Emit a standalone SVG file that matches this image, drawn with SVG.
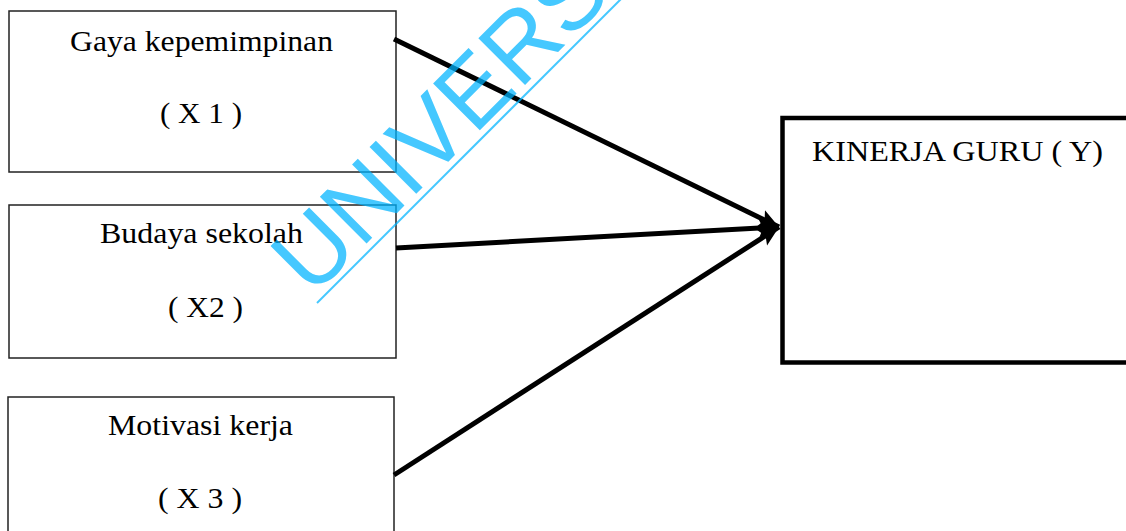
<svg xmlns="http://www.w3.org/2000/svg" width="1126" height="531" viewBox="0 0 1126 531">
<style>
.box{fill:#fff;stroke:#222;stroke-width:1.5}
.big{fill:#fff;stroke:#000;stroke-width:4.5}
.t{font-family:"Liberation Serif","Times New Roman",serif;font-size:29px;fill:#000}
.c{fill:none;stroke:#000;stroke-width:5}
.wm{font-family:"Liberation Sans",Arial,sans-serif;font-size:96px;fill:#00B4FF;fill-opacity:0.73}
</style>
<defs>
<marker id="ah" markerUnits="userSpaceOnUse" markerWidth="22" markerHeight="20" refX="20" refY="10" orient="auto">
<path d="M0,1 L20,10 L0,19 L4,10 Z" fill="#000"/>
</marker>
</defs>
<g id="node-x1">
<rect class="box" x="9" y="11" width="387" height="161"/>
<text class="t" x="201.5" y="51" text-anchor="middle" textLength="263" lengthAdjust="spacingAndGlyphs">Gaya kepemimpinan</text>
<text class="t" x="201" y="123" text-anchor="middle" textLength="82" lengthAdjust="spacingAndGlyphs">( X 1 )</text>
</g>
<g id="node-x2">
<rect class="box" x="9" y="205" width="387" height="153"/>
<text class="t" x="201.5" y="243" text-anchor="middle" textLength="203" lengthAdjust="spacingAndGlyphs">Budaya sekolah</text>
<text class="t" x="205.5" y="317" text-anchor="middle" textLength="75" lengthAdjust="spacingAndGlyphs">( X2 )</text>
</g>
<g id="node-x3">
<rect class="box" x="8" y="397" width="386" height="150"/>
<text class="t" x="200.5" y="435" text-anchor="middle" textLength="185" lengthAdjust="spacingAndGlyphs">Motivasi kerja</text>
<text class="t" x="200" y="508" text-anchor="middle" textLength="84" lengthAdjust="spacingAndGlyphs">( X 3 )</text>
</g>
<g id="node-y">
<rect class="big" x="782.5" y="118" width="360" height="244.5"/>
<text class="t" x="812" y="161" textLength="291" lengthAdjust="spacingAndGlyphs">KINERJA GURU ( Y)</text>
</g>
<g id="connectors">
<line class="c" x1="394" y1="39" x2="779" y2="227" marker-end="url(#ah)"/>
<line class="c" x1="396" y1="248" x2="779" y2="227" marker-end="url(#ah)"/>
<line class="c" x1="394" y1="475" x2="779" y2="227" marker-end="url(#ah)"/>
</g>
<g id="watermark">
<text class="wm" transform="translate(312,298) rotate(-45)">UNIVERSITAS</text>
<line x1="317" y1="303" x2="625" y2="-5" stroke="#00B4FF" stroke-opacity="0.73" stroke-width="2"/>
</g>
</svg>
